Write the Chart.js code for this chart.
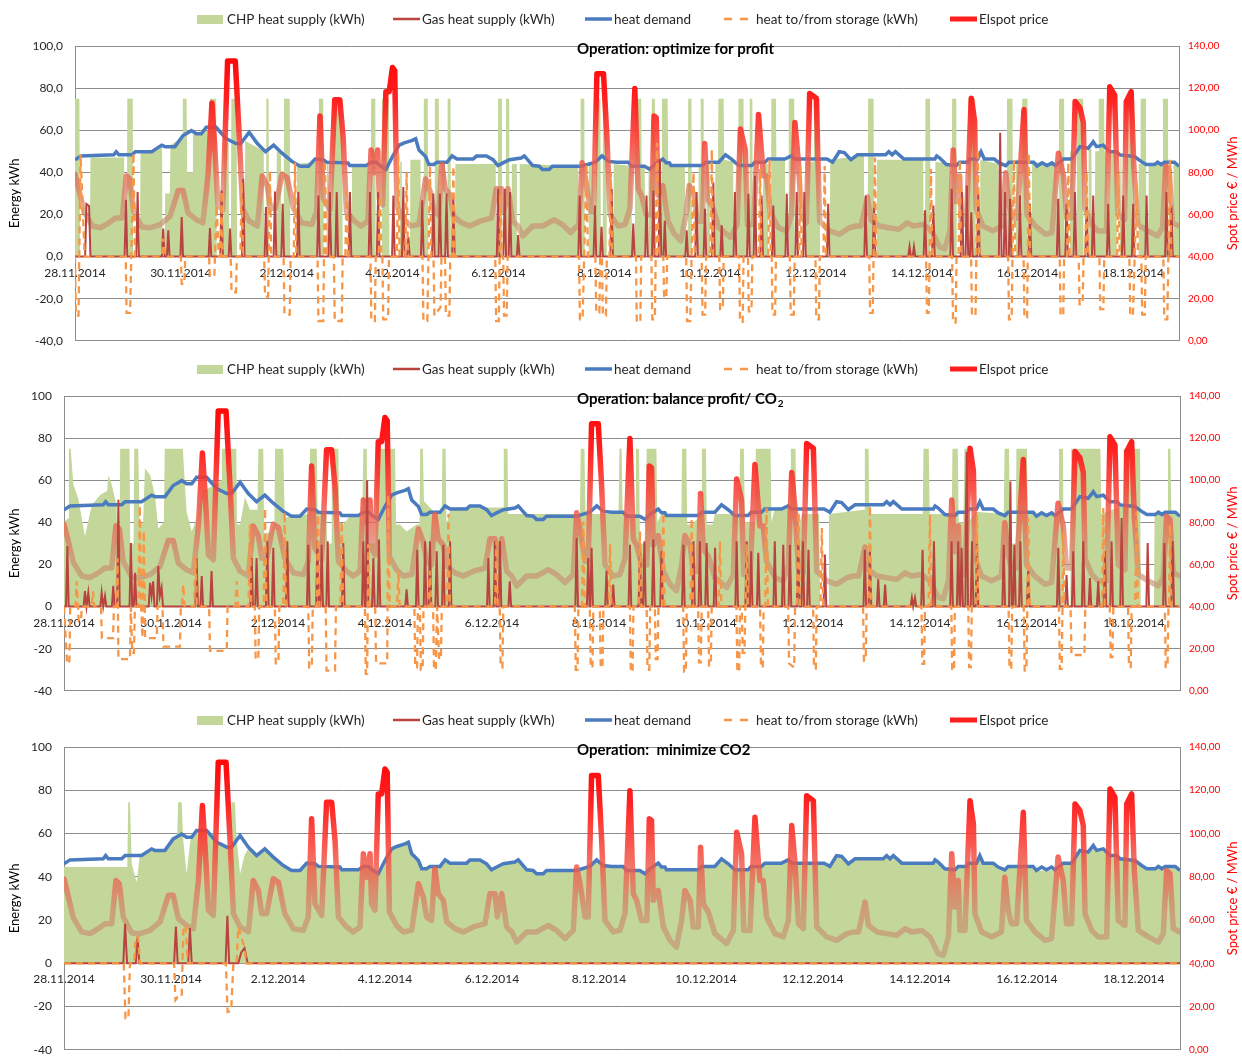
<!DOCTYPE html>
<html>
<head>
<meta charset="utf-8">
<script src="https://cdn.jsdelivr.net/npm/chart.js@4.4.0/dist/chart.umd.min.js"></script>
<style>
  html, body { margin: 0; padding: 0; background: #fff; }
  body { width: 1242px; height: 1056px; position: relative; overflow: hidden; }
  canvas { position: absolute; left: 0; }
</style>
</head>
<body>
<canvas id="p1" width="1242" height="360" style="top:0"></canvas>
<canvas id="p2" width="1242" height="358" style="top:352px"></canvas>
<canvas id="p3" width="1242" height="367" style="top:702px"></canvas>
<script>
// x values are hours from 28.11.2014 00:00
const HOUR_MAX = 500.7;
const dateLabels = ['28.11.2014', '30.11.2014', '2.12.2014', '4.12.2014', '6.12.2014', '8.12.2014',
  '10.12.2014', '12.12.2014', '14.12.2014', '16.12.2014', '18.12.2014'];
const leftTicks = [-40, -20, 0, 20, 40, 60, 80, 100];
const rightTicks = [0, 20, 40, 60, 80, 100, 120, 140];

// Elspot price (EUR/MWh), same in all three panels
const price = [[0,79],[1.9,71],[4.2,61],[7.9,54.5],[11.7,53.7],[15.4,56],[18.4,58.3],[21.4,58.3],[23.3,78.3],[24.8,76.8],[26.6,61.4],[30.4,54],[34.1,53.7],[38.6,55.2],[43.1,59.1],[46.8,71.4],[49,71.4],[51.3,60.6],[55,57.5],[58,56],[60.3,78.3],[62.1,112.9],[63.3,93.7],[64.8,64.5],[67,62.2],[69.2,132.9],[72.7,132.9],[74.5,96.8],[76,62.9],[79,56.8],[82.7,54.5],[84.9,78.3],[87.2,73.7],[88.7,62.9],[90.9,62.9],[93.9,79.1],[96.2,77.5],[99.1,62.9],[102.9,56],[107.4,55.2],[109.6,61.4],[111.1,106.8],[112.6,67.5],[115.6,62.2],[117.8,114.5],[120.1,114.5],[121.6,96.8],[123.1,61.4],[126.8,56.8],[129.8,54.5],[132.8,56.8],[134.3,90.6],[135.8,79.8],[137.3,90.6],[138,67.5],[139.5,64.5],[141,118.3],[142.5,118.3],[144,129.8],[145,128.3],[146,63.7],[149.2,57.5],[152.2,54.5],[156,55.2],[159,76.8],[161.2,70.6],[162.7,61.4],[164.9,59.8],[166.4,83.7],[167.9,72.2],[170.2,69.1],[171.7,59.1],[175.4,56],[179.1,54.5],[183.7,56.8],[188.9,58.3],[191.1,72.2],[193.4,72.2],[194.4,61.4],[196.4,72.2],[198.6,56.8],[200.9,54.5],[203.1,49.8],[207.6,54.5],[212.1,54.5],[217.3,57.5],[221,55.2],[224.8,51.4],[228.5,55.2],[230,84.5],[231.5,76.8],[233.8,61.4],[235.2,61.4],[236.7,126.8],[239.7,126.8],[241.2,97.5],[242.7,59.8],[246.4,54.5],[249.4,55.2],[251.7,62.9],[253.9,119.8],[255.4,72.2],[256.9,69.1],[259.1,59.8],[261.5,59.8],[262.6,106.8],[263.6,106],[264.4,69.1],[266.6,73.7],[268.9,56.8],[271.9,50.6],[274.8,47.5],[277.1,59.8],[278.6,73.7],[280.9,69.1],[282.3,56.8],[284.6,56.8],[285.6,93.7],[286.8,67.5],[289.1,63.7],[292,53.7],[297.3,49.1],[300.3,55.2],[301.8,100.6],[304,90.6],[305,55.2],[307.8,55.2],[310,107.5],[312.2,78.3],[313.7,78.3],[315.2,61.4],[319,53.7],[322.7,52.2],[325,59.8],[326.5,103.7],[328,86],[329.5,58.3],[331.7,56],[333.2,117.5],[336.2,115.2],[337.7,56.8],[342.2,52.2],[346.7,50.6],[351.2,53.7],[354.2,54.5],[356.5,54.5],[359.4,68.3],[360.9,57.5],[364.7,54.5],[369.1,53.7],[373.6,52.9],[377.4,56],[380.3,54.5],[384.8,55.2],[388.5,52.2],[392.2,44.5],[394.5,43.7],[396.8,52.2],[398.3,90.6],[399.7,66],[401.2,78.3],[402,55.2],[404.2,55.2],[406.5,115.2],[408,104.5],[408.7,62.9],[411.7,54.5],[416.2,52.2],[420.6,54.5],[422.1,79.8],[423.6,64.5],[425.1,58.3],[427.4,58.3],[430.4,109.8],[431.8,59.8],[435.6,54.5],[440.1,50.6],[443.1,51.4],[446,89.1],[448.3,78.3],[449.8,58.3],[452.1,58.3],[453.6,113.7],[455.8,110.6],[457.3,103.7],[458.1,62.9],[461.1,55.2],[464,52.2],[467.8,52.2],[469.3,120.6],[471.5,116.8],[473,59.8],[476,57.5],[476.8,113.7],[479,118.3],[480.2,82.9],[482,55.2],[486.5,52.2],[491,49.8],[493.2,53.7],[494.7,82.9],[496.2,81.4],[497.7,56],[500.7,54.5]];

// heat demand (kWh), same in all three panels
const demand = [[0,46],[2.7,47.8],[17.6,48.3],[18.7,49.8],[19.9,48.3],[25.9,48.3],[27.4,49.8],[34.8,49.8],[37.1,51.4],[39.3,52.9],[40.8,52.2],[45.3,52.2],[49,57.5],[52.8,59.8],[55,58.3],[57.3,58.3],[59.5,61.4],[64,61.4],[68.5,56],[73,53.7],[75.2,53.7],[79,59.1],[82.7,53.7],[86.4,49.8],[90.1,52.9],[93.9,49.1],[98.4,45.2],[102.1,42.9],[105.9,42.9],[108.9,46.3],[112.6,46],[114.1,44.8],[123.8,44.5],[124.6,43.2],[132,43.2],[134.3,44.8],[136.6,44.8],[138.8,42.9],[141,41.4],[144,47.5],[147,52.9],[149.3,54],[153,55.2],[154.5,56],[156,50.6],[157.5,49.1],[159,47.5],[160.5,43.7],[162.7,43.7],[164.2,44.8],[168.7,44.8],[171,47.8],[173.2,46.3],[180.6,46.3],[182.1,47.8],[186.6,47.8],[189.6,46],[191.8,43.2],[194.1,44.5],[197.1,46],[202.3,46.8],[203.8,47.8],[207.6,43.2],[210.5,42.9],[212,41.4],[215,41.4],[216.5,42.9],[229.9,42.9],[235.9,44.8],[239,47.8],[242,45.2],[245.7,44.8],[250.9,44.8],[252.4,42.9],[258.3,42.9],[260.7,41.4],[262.8,43.7],[266.6,46.3],[268.1,44.5],[269.6,44.5],[270.3,43.2],[284.6,43.2],[286,44.8],[292,44.8],[295,48.3],[298,46],[301,43.2],[306.9,43.2],[308.3,44.8],[312.9,44.8],[314.4,46.3],[321.9,46.3],[324.9,47.8],[326.5,46.3],[341,46.3],[343.6,44.8],[346.6,49.8],[348.9,49.4],[351.9,46],[354.9,48.3],[367.6,48.3],[369.1,49.8],[370.6,48.3],[372.1,49.8],[375.9,46.3],[390,46.3],[390.8,47.8],[392.2,46.8],[395.2,43.7],[399.7,43.2],[401.2,44.8],[404.9,44.8],[405.7,46.3],[409.4,46.3],[410.9,49.8],[412.4,46.3],[416.9,46.3],[419.1,44.5],[422.1,43.2],[423.6,44.8],[434.8,44.8],[436.3,42.9],[438.6,44.5],[440.8,43.2],[443.1,44.5],[444.6,43.2],[448.3,46.3],[452.1,46.3],[455.8,52.2],[459.5,51.4],[461.8,54.5],[463.3,52.2],[466.3,52.9],[469.3,49.8],[472.3,49.8],[473.8,48.3],[480.5,47.5],[483.5,45.2],[485.8,43.7],[489.6,43.7],[491,44.8],[492.6,43.7],[494.1,44.8],[498.6,44.8],[500.7,42.9]];

// Operation: optimize for profit
const chp1 = [[0,75],[2,75],[2.3,0],[6.7,0],[7,47],[22.3,47],[22.5,0],[23.5,0],[23.7,75],[26.2,75],[26.4,0],[29.4,0],[29.7,49],[35,50],[39.5,52],[39.7,0],[40.6,0],[40.9,30],[43,30],[43.3,53],[48,56],[48.7,56],[48.9,75],[50.6,75],[50.9,40],[53.2,40],[53.5,58],[61,60],[61.3,75],[64,75],[64.3,0],[67.2,0],[67.5,54],[69.7,54],[69.9,0],[70.7,0],[70.9,75],[73.3,75],[73.5,0],[76.9,0],[77.2,55],[85.6,50],[85.8,0],[86.6,0],[86.8,75],[87.8,75],[88,0],[91.3,0],[91.5,50],[93.4,49],[93.6,0],[94.6,0],[94.8,75],[97.4,75],[97.6,0],[100.5,0],[100.7,44],[109.5,45],[109.7,0],[110.4,0],[110.6,75],[112.6,75],[112.8,0],[114.1,0],[114.3,45],[115,45],[115.1,0],[116.4,0],[116.7,75],[121.2,75],[121.4,0],[125.4,0],[125.6,44],[133,44],[133.2,0],[134.1,0],[134.3,75],[136.2,75],[136.4,0],[138.9,0],[139.2,75],[142.4,75],[142.6,0],[147.3,0],[147.5,45],[148.2,45],[148.3,0],[151.9,0],[152.1,46],[156.7,46],[156.9,0],[158,0],[158.2,75],[160,75],[160.2,0],[163,0],[163.2,75],[165,75],[165.2,0],[166,0],[166.2,44],[167.8,44],[168,0],[168.8,0],[169,75],[170.3,75],[170.5,0],[172.3,0],[172.5,44],[190.8,44],[191,0],[191.7,0],[191.9,75],[193.6,75],[193.8,0],[195.3,0],[195.5,75],[196.9,75],[197.1,0],[197.9,0],[198.1,44],[200.4,44],[200.5,0],[201.5,0],[201.7,44],[228.2,43],[228.3,0],[229.1,0],[229.3,75],[231,75],[231.2,0],[232.8,0],[233,44],[235,44],[235.2,0],[236.2,0],[236.4,75],[238.3,75],[238.5,0],[239.2,0],[239.4,75],[241,75],[241.2,0],[244.1,0],[244.3,44],[252.4,43],[252.6,0],[253.9,0],[254.1,75],[256.8,75],[257,43],[258.4,43],[258.6,0],[259.9,0],[260.1,43],[261.4,43],[261.6,75],[263,75],[263.2,0],[266,0],[266.2,75],[268.8,75],[269,44],[276.6,44],[276.8,0],[277.9,0],[278.1,75],[279.6,75],[279.8,0],[282.6,0],[282.8,44],[283.6,44],[283.8,75],[285.1,75],[285.3,0],[286.2,0],[286.4,44],[287.8,44],[288,0],[290.2,0],[290.4,44],[291.6,44],[291.8,75],[294.2,75],[294.4,46],[298.5,45],[298.7,0],[300,0],[300.2,44],[300.7,44],[300.9,75],[303.2,75],[303.4,44],[304.6,44],[304.8,0],[305.8,0],[306,75],[307.2,75],[307.4,0],[311.9,0],[312.1,44],[314.2,44],[314.4,0],[315.6,0],[315.8,75],[317.9,75],[318.1,46],[322,46],[322.2,0],[323.5,0],[323.7,75],[326.2,75],[326.4,0],[331.5,0],[331.7,45],[335.1,45],[335.3,75],[337.7,75],[337.9,0],[342.3,0],[342.5,46],[357.8,48],[358,0],[359.5,0],[359.7,75],[362.2,75],[362.4,0],[363.5,0],[363.7,46],[384.7,46],[384.9,0],[385.5,0],[385.7,75],[387.8,75],[388,0],[390,0],[390.2,45],[396.8,44],[397,0],[397.6,0],[397.8,75],[399.7,75],[399.9,0],[405,0],[405.2,75],[408.3,75],[408.5,0],[410.4,0],[410.6,46],[418.8,44],[419,0],[422.5,0],[422.7,75],[425.2,75],[425.4,0],[426.5,0],[426.7,46],[427.8,46],[428,0],[429.4,0],[429.6,75],[432,75],[432.2,0],[433.8,0],[434,45],[445.1,44],[445.3,0],[446.1,0],[446.3,75],[448.6,75],[448.8,0],[451.2,0],[451.4,50],[452.7,50],[452.9,0],[454.3,0],[454.5,75],[457.2,75],[457.4,0],[459.5,0],[459.7,51],[461,51],[461.2,0],[462.5,0],[462.7,50],[464.1,50],[464.3,75],[466.7,75],[466.9,50],[467.8,50],[468,0],[469.3,0],[469.5,49],[472.3,49],[472.5,0],[473.9,0],[474.1,48],[474.6,48],[474.8,0],[476.1,0],[476.3,47],[477.6,47],[477.8,75],[480.2,75],[480.4,0],[482.2,0],[482.4,44],[483.1,44],[483.3,75],[485.7,75],[485.9,0],[486.7,0],[486.9,44],[493.2,44],[493.4,75],[495.7,75],[495.9,0],[498,0],[498.2,44],[501,44]];
const gas1 = [[0,0],[4.6,0],[5.2,25],[6.4,24],[7,0],[22.5,0],[23.1,27],[23.7,0],[27.8,0],[28.4,30.6],[29,0],[39.4,0],[40,13.3],[40.6,0],[41.7,0],[42.3,12.5],[42.9,0],[47.8,0],[48.4,18.8],[49,0],[60.6,0],[61.2,13.6],[61.8,0],[65.9,0],[66.5,31.4],[67.1,0],[69.7,0],[70.3,13.3],[70.9,0],[75.7,0],[76.3,36.9],[76.9,0],[86,0],[86.6,23.5],[87.2,0],[90.1,0],[90.7,30.9],[91.3,0],[93.6,0],[94.2,25.1],[94.8,0],[100.7,0],[101.3,30.6],[101.9,0],[109.8,0],[110.4,29],[111,0],[115,0],[115.6,30.6],[116.2,0],[118.1,0],[118.7,30.6],[119.3,0],[124.1,0],[124.7,30.6],[125.3,0],[133.2,0],[133.8,30.6],[134.4,0],[136.9,0],[137.5,30.6],[138.1,0],[143.8,0],[144.4,29],[145,0],[148.3,0],[148.9,33],[149.5,0],[150.6,0],[151.2,9.4],[151.8,0],[156.9,0],[157.5,26.7],[158.1,0],[161.9,0],[162.5,30],[163.1,0],[164.9,0],[165.5,30],[166.1,0],[167.9,0],[168.5,30],[169.1,0],[171,0],[171.6,28],[172.2,0],[191.3,0],[191.9,32.2],[192.5,0],[194.3,0],[194.9,32.2],[195.5,0],[196.7,0],[197.3,30.6],[197.9,0],[200.4,0],[201,10.2],[201.6,0],[228.3,0],[228.9,29],[229.5,0],[235.2,0],[235.8,24.3],[236.4,0],[238.2,0],[238.8,14.1],[239.4,0],[242.8,0],[243.4,32.2],[244,0],[252.6,0],[253.2,15.7],[253.8,0],[258.6,0],[259.2,29],[259.8,0],[261.7,0],[262.3,31.4],[262.9,0],[264.7,0],[265.3,46.3],[265.9,0],[266.9,0],[267.5,17],[268.1,0],[276.8,0],[277.4,12.5],[278,0],[281.3,0],[281.9,30.6],[282.5,0],[285.1,0],[285.7,22.7],[286.3,0],[288.9,0],[289.5,35.3],[290.1,0],[292.7,0],[293.3,14.9],[293.9,0],[298.7,0],[299.3,30.6],[299.9,0],[304.8,0],[305.4,29.8],[306,0],[307.8,0],[308.4,38.4],[309,0],[310.8,0],[311.4,29],[312,0],[316.1,0],[316.7,24.3],[317.3,0],[322.2,0],[322.8,29.8],[323.4,0],[326.7,0],[327.3,30.6],[327.9,0],[330.2,0],[330.8,30.6],[331.4,0],[341,0],[341.6,25.1],[342.2,0],[358,0],[358.6,29],[359.2,0],[361.8,0],[362.4,26],[363,0],[377.9,0],[378.5,4.7],[379.1,0],[379.9,0],[380.5,4.7],[381.1,0],[384.9,0],[385.5,22],[386.1,0],[388.7,0],[389.3,24.3],[389.9,0],[397,0],[397.6,32.2],[398.2,0],[401.7,0],[402.3,30.6],[402.9,0],[403.9,0],[404.5,33.7],[405.1,0],[405.9,0],[406.5,21],[407.1,0],[409.1,0],[409.7,29.8],[410.3,0],[419,0],[419.6,58.8],[420.2,0],[421.2,0],[421.8,30.6],[422.4,0],[423.5,0],[424.1,27.5],[424.7,0],[428,0],[428.6,29],[429.2,0],[432.5,0],[433.1,25.1],[433.7,0],[445.3,0],[445.9,27.5],[446.5,0],[449.1,0],[449.7,25.1],[450.3,0],[452.9,0],[453.5,30.6],[454.1,0],[458.2,0],[458.8,24.3],[459.4,0],[461.2,0],[461.8,29],[462.4,0],[468,0],[468.6,25.1],[469.2,0],[474.8,0],[475.4,29],[476,0],[479.3,0],[479.9,25.1],[480.5,0],[485.4,0],[486,29],[486.6,0],[494.4,0],[495,30.6],[495.6,0],[496.7,0],[497.3,24.3],[497.9,0],[501,0]];
const store1 = [[0,0],[0.4,-28],[1.6,-28],[2.5,48.6],[4.4,0],[23,0],[23.4,-26.7],[25,-26.7],[26.5,49.4],[27.2,0],[39.4,0],[40,8.6],[40.6,0],[48,0],[48.4,-13],[49.6,-13],[50,0],[60.8,0],[61.2,-9.4],[63.2,-9.4],[64.2,24.3],[65.2,0],[66,0],[66.5,31],[67.1,0],[70.6,0],[71,-17],[73,-17],[73.4,0],[75,0],[75.6,35.3],[76.2,0],[85.8,0],[86.2,-19],[87.6,-19],[88.4,40.8],[89,0],[94.6,0],[95,-27.5],[97.4,-27.5],[97.8,0],[99.2,0],[99.8,44.7],[100.4,0],[110,0],[110.4,-30.6],[112.6,-30.6],[113.4,45.5],[114,0],[117.4,0],[117.8,-30.6],[121,-30.6],[121.4,0],[122.6,0],[123.2,33],[123.8,0],[134,0],[134.4,-30.6],[136,-30.6],[136.4,0],[137.7,0],[138.3,32],[138.9,0],[139.4,0],[139.8,-29.8],[142,-29.8],[142.4,0],[146,0],[146.6,48.6],[147.2,0],[149.8,0],[150.4,40],[151,0],[157.6,0],[158,-30.6],[159.8,-30.6],[161,43],[161.6,0],[162.6,0],[163,-28],[165.8,-24],[166.2,0],[167.8,0],[168.2,-28],[169.8,-28],[170.2,0],[171,0],[171.6,43],[172.2,0],[190.6,0],[191,-30.6],[192.2,-30.6],[192.6,0],[193,30],[193.6,0],[194.2,0],[194.6,-28],[195.8,-28],[196.2,0],[228.6,0],[229,-29.8],[230.2,-29.8],[232,44],[232.6,0],[236,0],[236.4,-26.7],[237.8,-26.7],[238.2,0],[239,0],[239.4,-28],[240.8,-28],[241.2,0],[242.4,0],[243,40],[243.6,0],[254.4,0],[254.8,-31],[256.4,-31],[256.8,0],[261.4,0],[261.8,-29.8],[263,-29.8],[264,54],[264.6,0],[266.8,0],[267.2,-19.6],[268.2,-19.6],[268.6,0],[277.2,0],[277.6,-30.6],[279,-30.6],[280.5,40],[281.1,0],[284.2,0],[284.6,-27.5],[285.8,-27.5],[286.2,0],[288.2,0],[288.8,51],[289.4,0],[292.2,0],[292.6,-25],[293.8,-25],[294.2,0],[301.2,0],[301.6,-31],[302.8,-31],[303.2,0],[305.2,0],[305.6,-26],[306.8,-26],[307.2,0],[310.1,0],[310.7,41.6],[311.3,0],[314.4,0],[315,46],[315.6,0],[316,0],[316.3,-27.5],[317.5,-27.5],[317.9,0],[324.2,0],[324.6,-27.5],[326,-27.5],[326.4,0],[328.4,0],[329,43],[329.6,0],[335.8,0],[336.2,-29.8],[337.4,-29.8],[337.8,0],[339.4,0],[340,43],[340.6,0],[360.2,0],[360.6,-26.7],[361.8,-26.7],[362.8,47],[363.4,0],[386,0],[386.4,-26.7],[387.2,-26.7],[388.2,41.6],[388.8,0],[397.8,0],[398.2,-31.4],[399.4,-31.4],[399.8,0],[400.7,0],[401.3,46],[401.9,0],[406.4,0],[406.8,-28],[408.4,-28],[409.5,51],[410.1,0],[423.2,0],[423.6,-29.8],[424.8,-29.8],[425.8,46],[426.4,0],[430.2,0],[430.6,-29],[431.8,-29],[432.6,49],[433.2,0],[446.6,0],[447,-28],[448.2,-28],[448.6,0],[449.9,0],[450.5,44.7],[451.1,0],[455.2,0],[455.6,-22.7],[457,-22.7],[457.4,0],[458.2,0],[458.8,40],[459.4,0],[464.6,0],[465,-25],[466.4,-25],[466.8,0],[472.6,0],[473.2,40],[473.8,0],[478.2,0],[478.6,-28],[479.8,-28],[480.6,0],[481.5,35],[482.1,0],[483.6,0],[484,-27.5],[485.2,-27.5],[485.6,0],[493.6,0],[494,-29.8],[495.4,-29.8],[496.6,46],[497.2,0],[501,0]];

// Operation: balance profit / CO2
const chp2 = [[0,40],[1.8,42],[2.2,75],[3,75],[4.2,58],[6.4,51.5],[9.4,33.4],[12.4,48],[16.2,53],[19.4,55],[19.9,62.5],[21.4,58],[23.6,48],[24,20],[24.9,20],[25.2,75],[29.4,75],[29.7,30],[31.2,30],[31.5,75],[33.3,75],[34,39],[35.5,40],[36.3,65.7],[38.6,62.5],[40.8,53],[42.3,37],[44.8,40],[45.2,75],[53.3,75],[55,45],[57.3,35.7],[59.5,42],[62,55],[68.5,58],[70.5,60],[70.8,75],[77.3,75],[77.6,39],[79,39],[81.2,52],[83.4,46],[86.8,46],[87.2,75],[89.4,75],[89.8,35],[92.5,35],[94.4,40],[94.7,75],[98.4,75],[99,42],[102.9,43.6],[107.4,43.6],[110,44],[110.4,75],[113.4,75],[113.8,44],[117.8,44],[118.1,30],[119.8,30],[120.1,75],[123.1,75],[123.5,40],[125.3,39],[128.3,43],[132.8,43],[133.8,40],[134.3,75],[135.8,75],[136.2,30],[139.8,30],[140.3,75],[148.5,75],[149,39],[150.7,39],[153.7,35.7],[158.2,39],[159.5,39],[159.8,75],[161,75],[161.5,50],[166,45],[169.5,45],[169.8,75],[171.2,75],[171.6,39],[173.5,47],[197,47],[197.3,75],[199,75],[199.3,44],[231.5,44],[231.8,75],[233.5,75],[234,44],[248.8,44],[249.2,75],[250.2,75],[250.6,44],[256.2,44],[256.6,75],[258,75],[258.4,30],[261,30],[261.4,75],[265.8,75],[266.2,40],[268,44],[277,44],[277.3,75],[279.2,75],[279.6,39],[282,39],[285.8,44],[286.2,75],[288,75],[288.4,39],[291,39],[292,44],[303,44],[303.3,75],[305,75],[305.5,40],[310,40],[310.4,75],[317,75],[317.4,40],[319,47],[325.8,47],[326.1,75],[328.2,75],[328.6,40],[330,40],[331,44],[338.8,44],[339.2,0],[342.8,0],[343.2,44],[359,46],[359.3,75],[361,75],[361.3,44],[385.3,44],[385.6,75],[388,75],[388.4,44],[398.3,44],[398.6,75],[401,75],[401.4,40],[403.5,40],[404,75],[405.2,75],[405.6,40],[409,45],[421.6,44],[422,75],[424,75],[424.4,30],[427,30],[427.3,75],[432,75],[432.4,44],[446,44],[446.4,75],[448.2,75],[448.6,0],[451.5,0],[451.9,75],[465,75],[465.4,44],[475.2,48],[475.5,75],[482.8,75],[483.1,0],[489,0],[489.3,44],[495,44],[495.3,75],[496.4,75],[496.8,44],[501,44]];
const gas2 = [[0,0],[0.9,0],[1.5,28.7],[2.1,0],[8.8,0],[9.4,7.4],[10.1,0],[10.9,6.6],[11.5,0],[16.3,0],[16.9,6.6],[17.6,0],[18.4,5],[19,0],[21.5,0],[22.1,9.8],[22.7,0],[23.8,0],[24.4,50.7],[25,0],[29.4,0],[30,30.2],[30.6,0],[31.3,0],[31.9,16],[32.5,0],[38,0],[38.6,11.3],[39.3,5],[40,12],[40.6,0],[41.7,0],[42.3,19.2],[43,5],[43.8,9],[44.4,0],[58.9,0],[59.5,23],[60.1,0],[61.2,0],[61.8,14.5],[62.4,0],[65.6,0],[66.2,16.9],[66.8,0],[83.6,0],[84.2,23],[84.8,0],[85.8,0],[86.4,23],[87,0],[90.6,0],[91.2,31],[91.8,0],[93.3,0],[93.9,27.9],[94.5,0],[99.6,0],[100.2,31],[100.8,0],[109,0],[109.6,29.4],[110.2,0],[113.1,0],[113.7,31],[114.3,0],[115,0],[115.6,29.4],[116.2,0],[117.7,0],[118.3,31],[118.9,0],[124.7,0],[125.3,30.2],[125.9,0],[133.7,0],[134.3,31],[134.9,0],[135.4,0],[136,60],[136.6,0],[138.2,0],[138.8,23],[139.4,0],[140.7,0],[141.3,31.8],[141.9,0],[153.1,0],[153.7,8.2],[154.3,0],[157.9,0],[158.5,27],[159.1,0],[161.4,0],[162,31],[162.6,0],[163.6,0],[164.2,31],[164.8,0],[166.6,0],[167.2,26.3],[167.8,0],[169.6,0],[170.2,29.4],[170.8,0],[172.6,0],[173.2,31],[173.8,0],[189.8,0],[190.4,23],[191,0],[192.8,0],[193.4,31],[194,0],[195,0],[195.6,31],[196.2,0],[199.4,0],[200,12],[200.6,0],[229.4,0],[230,32.6],[230.6,0],[234.6,0],[235.2,23],[235.8,0],[236.1,0],[236.7,27.9],[237.3,0],[242.8,0],[243.4,17],[244,0],[245.8,0],[246.4,10.5],[247,0],[253.3,0],[253.9,29.4],[254.5,0],[257.8,0],[258.4,29.4],[259,0],[259.8,0],[260.4,31],[261,0],[263.8,0],[264.4,31.8],[265,0],[267.5,0],[268.1,26.3],[268.7,0],[277.3,0],[277.9,29.4],[278.5,0],[281.8,0],[282.4,31],[283,0],[284.7,0],[285.3,31],[285.9,0],[287.7,0],[288.3,30.2],[288.9,0],[291.5,0],[292.1,27.9],[292.7,0],[301.2,0],[301.8,31],[302.4,0],[305.7,0],[306.3,31],[306.9,0],[307.7,0],[308.3,26.3],[308.9,0],[310.9,0],[311.5,25.5],[312.1,0],[318.3,0],[318.9,31],[319.5,0],[322.1,0],[322.7,29.4],[323.3,0],[325.1,0],[325.7,29.4],[326.3,0],[328.8,0],[329.4,31],[330,0],[330.9,0],[331.5,31],[332.1,0],[333.4,0],[334,27],[334.6,0],[340.8,0],[341.4,24.7],[342,0],[358.7,0],[359.3,27],[359.9,0],[361,0],[361.6,26.3],[362.2,0],[364.7,0],[365.3,13],[365.9,0],[367.8,0],[368.4,10.5],[369,0],[379.8,0],[380.4,4.2],[381,0],[381.2,0],[381.8,4.2],[382.4,0],[384.6,0],[385.2,27],[385.8,0],[389.7,0],[390.3,31],[390.9,0],[397.6,0],[398.2,31],[398.8,0],[400.6,0],[401.2,31],[401.8,0],[402.1,0],[402.7,27.9],[403.3,0],[404.4,0],[405,73.5],[405.6,0],[406.8,0],[407.4,31],[408,0],[409,0],[409.6,31],[410.2,0],[421,0],[421.6,29.4],[422.2,0],[424,0],[424.6,59.4],[425.2,0],[425.8,0],[426.4,29.4],[427,0],[428.5,0],[429.1,31],[429.7,0],[432,0],[432.6,16.9],[433.2,0],[445.5,0],[446.1,27.9],[446.7,0],[449.2,0],[449.8,15],[450.4,0],[452.2,0],[452.8,26.3],[453.4,0],[456.7,0],[457.3,31],[457.9,0],[459.7,0],[460.3,13.5],[460.9,0],[463.4,0],[464,12],[464.6,0],[466.4,0],[467,26.3],[467.6,0],[469.4,0],[470,31],[470.6,0],[473.9,0],[474.5,42],[475.1,0],[485.6,0],[486.2,30.2],[486.8,0],[493.1,0],[493.7,30.2],[494.3,0],[496.8,0],[497.4,31],[498,0],[501,0]];
const store2 = [[0,0],[1.4,-27],[2.4,-27],[2.8,0],[5.1,0],[5.7,12],[6.3,0],[6.6,-7],[7.6,-7],[8,0],[12.4,0],[13,7.4],[13.6,0],[16.6,0],[17,-15],[22,-15],[22.4,0],[23.4,0],[24,23],[24.4,-25],[29.6,-25],[30,0],[30.6,-22],[31.4,-22],[31.8,0],[33.4,0],[34,48],[34.6,0],[35.2,-15],[35.8,36],[36.4,-15],[41.6,-15],[42,0],[44.2,0],[44.6,-19],[52,-19],[52.4,0],[52.9,0],[53.5,10.5],[54.1,0],[58.4,0],[59,24],[59.6,0],[65.1,0],[65.5,-21],[73,-21],[73.4,0],[76.9,0],[77.5,12],[78.1,0],[82.8,0],[83.4,39],[84,0],[85.6,0],[86,-25],[87.2,-25],[87.6,0],[89.6,0],[90.2,46.8],[90.8,0],[94.6,0],[95,-27],[96.2,-27],[96.6,0],[98.4,0],[99,45],[99.6,0],[109.6,0],[110,-29],[111.2,-29],[111.6,0],[113.4,0],[114,43.6],[114.6,0],[117.4,0],[117.8,-30.4],[121.6,-30.4],[122,0],[124,0],[124.6,40.5],[125.2,0],[135,0],[135.4,-32],[136,-32],[136.5,29.6],[137.1,0],[139.6,0],[140,-27],[145,-27],[145.5,53],[146.1,0],[149.4,0],[150,17],[150.6,0],[157.2,0],[157.6,-29],[158.4,-29],[158.8,0],[159.7,0],[160.1,-30],[160.9,-30],[161.3,0],[163.6,0],[164.2,17],[164.8,0],[165.6,0],[166,-30],[166.8,-30],[167.4,0],[168.3,-25],[169.1,-25],[169.5,0],[171.9,0],[172.5,44],[173.1,0],[193.4,0],[194,31],[194.6,0],[195.5,0],[195.9,-29],[196.7,-29],[197.1,0],[229.2,0],[229.6,-30],[230.4,-30],[230.8,0],[232.4,0],[233,40.5],[233.6,0],[235.9,0],[236.3,-29],[237.1,-29],[237.5,0],[240.4,0],[240.8,-29],[241.6,-29],[242,0],[244.4,0],[245,29.6],[245.6,0],[253.9,0],[254.3,-31],[255.1,-31],[255.5,0],[257.8,0],[258.4,35.6],[259,0],[261.4,0],[261.8,-30],[262.6,-30],[263,0],[265.1,0],[265.5,-25],[266.3,-25],[266.7,0],[268.3,0],[268.9,44.4],[269.5,0],[277.8,0],[278.2,-31],[279,-31],[279.4,0],[281,0],[281.6,42],[282.2,0],[284.5,0],[284.9,-26.5],[285.7,-26.5],[286.1,0],[289,0],[289.4,-28],[290.2,-28],[290.6,0],[293.7,0],[294.3,31],[294.9,0],[301.7,0],[302.1,-31],[302.9,-31],[303.3,0],[304.1,0],[304.5,-22],[305.3,-22],[305.7,0],[306.3,29.6],[306.9,0],[312.3,0],[312.7,-29],[313.5,-29],[313.9,0],[314.6,0],[315.2,46.8],[315.8,0],[324.9,0],[325.3,-27],[327.6,-29],[328,0],[328.8,0],[329.6,45],[330.2,0],[336.1,0],[336.5,-29.5],[337.3,-29.5],[337.7,0],[339.4,0],[340,37.3],[340.6,0],[358.5,0],[358.9,-25.7],[359.7,-25.7],[360.1,0],[361,0],[361.6,48],[362.2,0],[384.7,0],[385.1,-27.2],[385.9,-27.2],[386.3,0],[387.9,0],[388.5,43.6],[389.1,0],[398.1,0],[398.5,-30.4],[399.3,-30.4],[399.7,0],[405.7,0],[406.1,-28.8],[406.9,-28.8],[407.3,0],[409,0],[409.6,43.6],[410.2,0],[423.8,0],[424.2,-29.6],[425,-29.6],[425.4,0],[430.6,0],[431,-30.4],[431.8,-30.4],[432.2,0],[432.6,42],[433.2,0],[446.4,0],[446.8,-29.6],[447.6,-29.6],[448,0],[448.3,35.6],[448.9,0],[451.6,0],[452,-23],[457.8,-23],[458.2,0],[465.7,0],[466.3,46.8],[466.9,0],[469.2,0],[469.6,-24],[470.4,-24],[470.8,0],[477.4,0],[477.8,-28.8],[478.6,-28.8],[479,0],[480.6,0],[481.2,45],[481.8,0],[493.9,0],[494.3,-28.8],[495.1,-28.8],[495.5,0],[495.8,0],[496.2,39],[496.8,0],[501,0]];

// Operation: minimize CO2
const chp3 = [[0,44.5],[28.4,44.5],[28.8,74.5],[29.6,74.5],[30.4,46],[32.6,37.5],[34,50],[37.1,51],[39.3,52.5],[45.3,52],[49,57],[50.8,59],[51.2,74.5],[52.8,74.5],[53.5,57],[55,41.4],[56.8,58],[59.5,61],[64,61],[68.5,55.5],[73,53.5],[74.8,54],[75.2,74.5],[76.7,74.5],[77.4,58],[79,41.4],[81,50],[82.7,53.2],[86.4,49.5],[90.1,52.5],[93.9,48.8],[98.4,45],[102.1,42.6],[105.9,42.6],[108.9,46],[112.6,45.7],[114.1,44.5],[124,44],[124.6,43],[132,43],[134.3,44.5],[138.8,42.6],[141,41],[144,47],[147,52.5],[153,55],[154.5,55.6],[156,50.3],[159,47.2],[160.5,43.4],[162.7,43.4],[164.2,44.5],[168.7,44.5],[171,47.5],[173.2,46],[180.6,46],[182.1,47.5],[186.6,47.5],[189.6,45.7],[191.8,43],[194.1,44.2],[197.1,45.7],[202.3,46.5],[203.8,47.5],[207.6,43],[210.5,42.6],[212,41],[215,41],[216.5,42.6],[229.9,42.6],[235.9,44.5],[239,47.5],[242,45],[250.9,44.5],[252.4,42.6],[258.3,42.6],[260.7,41],[262.8,43.4],[266.6,46],[268.1,44.2],[270.3,43],[284.6,43],[286,44.5],[292,44.5],[295,48],[298,45.7],[301,43],[306.9,43],[308.3,44.5],[312.9,44.5],[314.4,46],[321.9,46],[324.9,47.5],[326.5,46],[341,46],[343.6,44.5],[346.6,49.5],[348.9,49],[351.9,45.7],[354.9,48],[367.6,48],[369.1,49.5],[370.6,48],[372.1,49.5],[375.9,46],[390,46],[390.8,47.5],[392.2,46.5],[395.2,43.4],[399.7,43],[401.2,44.5],[404.9,44.5],[405.7,46],[409.4,46],[410.9,49.5],[412.4,46],[416.9,46],[419.1,44.2],[422.1,43],[423.6,44.5],[434.8,44.5],[436.3,42.6],[440.8,43],[444.6,43],[448.3,46],[452.1,46],[455.8,52],[459.5,51],[461.8,54],[463.3,52],[466.3,52.5],[469.3,49.5],[473.8,48],[480.5,47.2],[483.5,45],[485.8,43.4],[491,44.5],[498.6,44.5],[500.7,42.6],[501,42.6]];
const gas3 = [[0,0],[26.6,0],[27.4,18.3],[28.3,0],[32.2,0],[33,12.2],[33.8,0],[49.4,0],[50.2,17],[51,0],[55.7,0],[56.5,16.3],[57.3,0],[72.5,0],[73.3,22],[74.1,0],[78.2,0],[79.5,5],[81,7],[82.4,0],[501,0]];
const store3 = [[0,0],[26.8,0],[27.6,-25.5],[28.9,-25.5],[29.6,0],[31.4,0],[32.2,12.2],[33.3,12],[34,0],[49.4,0],[50,-17],[51,-15.5],[52.8,-15.5],[53.6,17.5],[54.6,17],[55.5,0],[72.6,0],[73.4,-22.5],[75,-22],[76,0],[77.4,0],[78.2,16.8],[80.5,9],[82,0],[501,0]];

Chart.defaults.font.family = 'Lato, "Open Sans", sans-serif';
Chart.defaults.color = '#262626';

const pts = a => a.map(([x, y]) => ({x, y}));
const GRID = '#8c8c8c';
const LEGEND_X = [197, 393, 585, 724, 950];

function priceColor(c) {
  const chart = c.chart;
  if (!chart.chartArea) return 'rgb(255,0,0)';
  const s = chart.scales.yp;
  const g = chart.ctx.createLinearGradient(0, s.getPixelForValue(140), 0, s.getPixelForValue(40));
  g.addColorStop(0, 'rgba(255,0,0,1)');
  g.addColorStop(0.25, 'rgba(255,25,25,0.97)');
  g.addColorStop(0.45, 'rgba(248,65,55,0.88)');
  g.addColorStop(0.62, 'rgba(232,105,85,0.78)');
  g.addColorStop(0.78, 'rgba(205,135,105,0.66)');
  g.addColorStop(1, 'rgba(190,150,120,0.6)');
  return g;
}

// legend, panel title and axis titles
const decor = {
  id: 'decor',
  afterDraw(chart, args, o) {
    const {ctx, chartArea: a} = chart;
    ctx.save();
    // legend
    const ly = a.top - 27;
    ctx.font = '13.5px Lato, sans-serif';
    ctx.textBaseline = 'middle';
    ctx.textAlign = 'left';
    chart.data.datasets.forEach((ds, i) => {
      const x = LEGEND_X[i];
      const lg = ds.legend;
      if (lg.box) {
        ctx.fillStyle = lg.color;
        ctx.fillRect(x, ly - 4, 26, 9);
      } else {
        ctx.strokeStyle = lg.color;
        ctx.lineWidth = lg.width;
        ctx.setLineDash(lg.dash || []);
        ctx.beginPath();
        ctx.moveTo(x, ly);
        ctx.lineTo(x + 27, ly);
        ctx.stroke();
        ctx.setLineDash([]);
      }
      ctx.fillStyle = '#262626';
      ctx.fillText(ds.label, x + (lg.box ? 30 : (lg.dash ? 32 : 29)), ly + 1);
    });
    // panel title
    ctx.fillStyle = '#000';
    ctx.font = 'bold 15px Lato, sans-serif';
    ctx.textBaseline = 'alphabetic';
    ctx.fillText(o.title, 577, a.top + 8);
    if (o.sub) {
      const w = ctx.measureText(o.title).width;
      ctx.font = 'bold 10px Lato, sans-serif';
      ctx.fillText(o.sub, 577 + w + 1, a.top + 11);
    }
    // axis titles
    const cy = (a.top + a.bottom) / 2;
    ctx.textAlign = 'center';
    ctx.textBaseline = 'middle';
    ctx.font = '13px Lato, sans-serif';
    ctx.translate(15, cy);
    ctx.rotate(-Math.PI / 2);
    ctx.fillStyle = '#000';
    ctx.fillText('Energy kWh', 0, 0);
    ctx.rotate(Math.PI / 2);
    ctx.translate(1233 - 15, 0);
    ctx.rotate(-Math.PI / 2);
    ctx.fillStyle = '#ff0000';
    ctx.fillText('Spot price € / MWh', 0, 0);
    ctx.restore();
  }
};

function makePanel(id, p) {
  new Chart(document.getElementById(id), {
    type: 'line',
    data: {
      datasets: [
        {label: 'CHP heat supply (kWh)', data: pts(p.chp), fill: 'origin', backgroundColor: 'rgb(196,215,155)',
          borderWidth: 0, pointRadius: 0, order: 5, legend: {box: true, color: 'rgb(196,215,155)'}},
        {label: 'Gas heat supply (kWh)', data: pts(p.gas), borderColor: '#b8433f', borderWidth: 2,
          pointRadius: 0, order: 2, legend: {color: '#b8433f', width: 2.5}},
        {label: 'heat demand', data: pts(demand), borderColor: '#4a7bbf', borderWidth: 3.5,
          pointRadius: 0, order: 4, legend: {color: '#4a7bbf', width: 3.5}},
        {label: 'heat to/from storage (kWh)', data: pts(p.store), borderColor: '#f79646', borderWidth: 2.3,
          borderDash: [7, 5], pointRadius: 0, order: 1, legend: {color: '#f79646', width: 2.3, dash: [8, 8]}},
        {label: 'Elspot price', data: pts(price), yAxisID: 'yp', borderColor: priceColor, borderWidth: 5.5,
          borderJoinStyle: 'round', borderCapStyle: 'round', pointRadius: 0, order: 3,
          legend: {color: 'rgb(255,30,30)', width: 5}}
      ]
    },
    options: {
      responsive: false,
      animation: false,
      events: [],
      layout: {padding: {top: p.top, bottom: 19, left: 0, right: 0}},
      plugins: {
        legend: {display: false},
        tooltip: {enabled: false},
        decor: {title: p.title, sub: p.sub}
      },
      scales: {
        x: {
          type: 'linear', min: 0, max: HOUR_MAX, position: {y: 0},
          grid: {display: false, drawTicks: false}, border: {display: false},
          afterBuildTicks: s => { s.ticks = dateLabels.map((_, i) => ({value: i * 48})); },
          ticks: {autoSkip: false, maxRotation: 0, padding: 9, font: {size: 12},
            callback: v => dateLabels[Math.round(v / 48)] || ''}
        },
        y: {
          min: -40, max: 100, position: 'left',
          afterFit: s => { s.width = p.left; },
          afterBuildTicks: s => { s.ticks = leftTicks.map(v => ({value: v})); },
          ticks: {padding: 12, font: {size: 12},
            callback: v => p.decimals ? v.toFixed(1).replace('.', ',') : String(v)},
          grid: {color: GRID, drawTicks: false},
          border: {color: GRID}
        },
        yp: {
          min: 0, max: 140, position: 'right',
          afterFit: s => { s.width = 1242 - p.right; },
          afterBuildTicks: s => { s.ticks = rightTicks.map(v => ({value: v})); },
          ticks: {padding: 9, color: '#ff0000', font: {size: 10},
            callback: v => v.toFixed(2).replace('.', ',')},
          grid: {display: false, drawTicks: false},
          border: {color: GRID}
        }
      }
    },
    plugins: [decor]
  });
}

makePanel('p1', {chp: chp1, gas: gas1, store: store1, top: 46, left: 75, right: 1179,
  decimals: true, title: 'Operation: optimize for profit'});
makePanel('p2', {chp: chp2, gas: gas2, store: store2, top: 44, left: 64, right: 1180,
  decimals: false, title: 'Operation: balance profit/ CO', sub: '2'});
makePanel('p3', {chp: chp3, gas: gas3, store: store3, top: 45, left: 64, right: 1180,
  decimals: false, title: 'Operation:  minimize CO2'});
</script>
</body>
</html>
